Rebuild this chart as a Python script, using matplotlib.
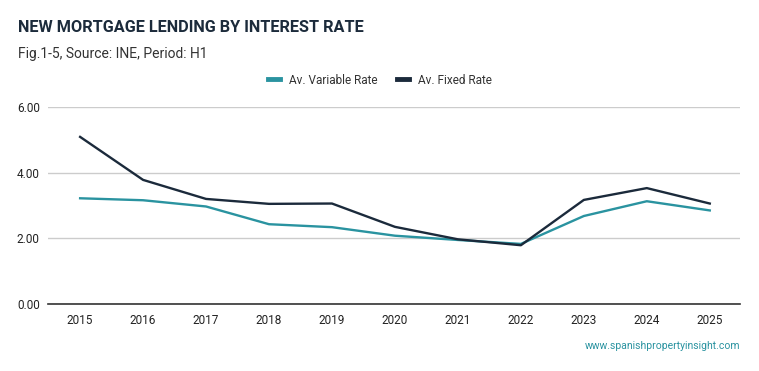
import matplotlib.pyplot as plt

plt.rcParams['font.family'] = ['Roboto', 'DejaVu Sans']

years = [2015, 2016, 2017, 2018, 2019, 2020, 2021, 2022, 2023, 2024, 2025]
variable_rate = [3.22, 3.16, 2.97, 2.43, 2.34, 2.08, 1.95, 1.83, 2.68, 3.13, 2.85]
fixed_rate = [5.09, 3.78, 3.20, 3.05, 3.06, 2.35, 1.97, 1.79, 3.17, 3.53, 3.06]
yticks = [0, 2, 4, 6]

teal = '#2a93a0'
navy = '#1b2a3b'

fig = plt.figure(figsize=(7.59, 3.71), dpi=100)
ax = fig.add_axes([48 / 759, 67 / 371, 692 / 759, 197 / 371])

ax.plot(years, variable_rate, color=teal, lw=1.7, label='Av. Variable Rate')
ax.plot(years, fixed_rate, color=navy, lw=1.7, label='Av. Fixed Rate')

ax.set_xlim(2014.49, 2025.48)
ax.set_ylim(0, 6)
ax.set_xticks(years)
ax.set_yticks(yticks)
ax.set_yticklabels(['%.2f' % v for v in yticks])
ax.tick_params(axis='both', length=0, labelsize=8.5, colors='#222222')
ax.tick_params(axis='x', pad=7)
ax.tick_params(axis='y', pad=6)
ax.grid(axis='y', color='#cccccc', lw=1)
ax.set_axisbelow(True)
for s in ['top', 'right', 'left']:
    ax.spines[s].set_visible(False)
ax.spines['bottom'].set_color('#333333')
ax.spines['bottom'].set_linewidth(1.2)

leg = fig.legend(loc='center', bbox_to_anchor=(380 / 759, 1 - 80 / 371), ncol=2,
                 frameon=False, fontsize=8.5, handlelength=1.0, columnspacing=1.6,
                 handletextpad=0.8)
for line in leg.get_lines():
    line.set_linewidth(3.5)
for t in leg.get_texts():
    t.set_color('#333333')

fig.text(18 / 759, 1 - 28 / 371, 'NEW MORTGAGE LENDING BY INTEREST RATE', fontsize=11.7,
         fontweight='bold', color='#1c2b3b', va='center')
fig.text(18 / 759, 1 - 54 / 371, 'Fig.1-5, Source: INE, Period: H1', fontsize=10,
         color='#333333', va='center')
fig.text(740 / 759, 1 - 346 / 371, 'www.spanishpropertyinsight.com', fontsize=7.5,
         color=teal, ha='right', va='center')

fig.savefig('out.png', dpi=100, facecolor='white')
